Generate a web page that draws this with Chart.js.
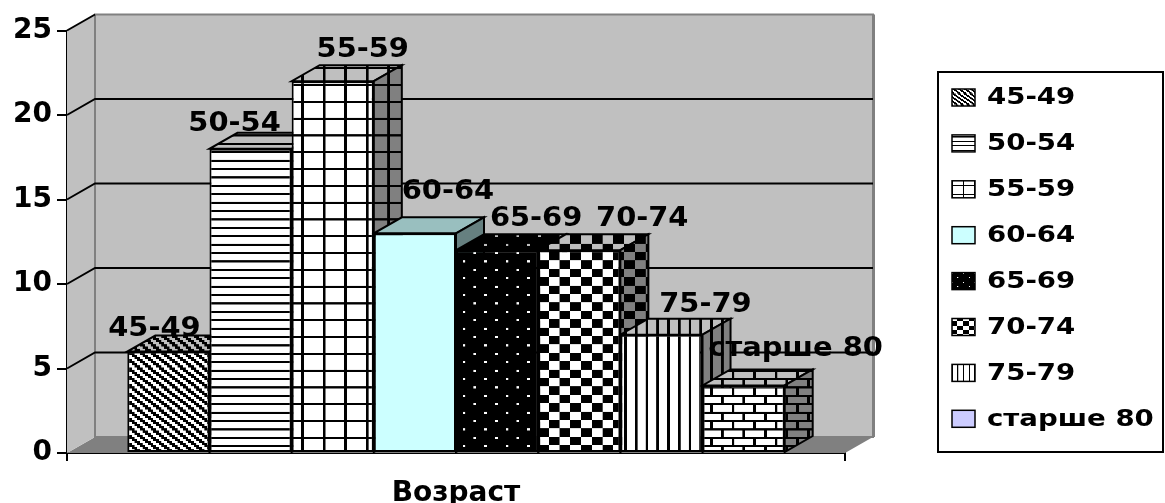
<!DOCTYPE html>
<html lang="ru">
<head>
<meta charset="utf-8">
<title>Возраст</title>
<script src="https://cdn.jsdelivr.net/npm/chart.js@4/dist/chart.umd.min.js"></script>
<style>
  html, body { margin: 0; padding: 0; background: #fff; }
  canvas { display: block; }
</style>
</head>
<body>
<canvas id="chart" width="1165" height="503"></canvas>
<script>
// ---- data ----
const categories = ['Возраст'];
const seriesNames = ['45-49', '50-54', '55-59', '60-64', '65-69', '70-74', '75-79', 'старше 80'];
const seriesValues = [6, 18, 22, 13, 12, 12, 7, 4];
const yTicks = [0, 5, 10, 15, 20, 25];

// ---- look ----
const FONT = "'DejaVu Sans', Verdana, sans-serif";
const depth = { dx: 28, dy: -16 };           // 3-D offset of the back plane
const labelNudge = [[-14, -25], [-16, -27], [30, -33], [33, -43], [39, -33], [63, -33], [44, -32], [52, -38]];

// 8x8 fill bitmaps (true = foreground pixel)
const bitmaps = {
  wideDownDiag: (x, y) => (((x - y) % 4) + 4) % 4 < 2,
  narrowHorz:   (x, y) => y % 4 === 0,
  largeGrid:    (x, y) => x % 8 === 0 || y % 8 === 0,
  solid:        () => false,
  dots:         (x, y) => (y === 0 && x === 0) || (y === 4 && x === 4),
  checker:      (x, y) => (((x >> 2) + (y >> 2)) & 1) === 1,
  narrowVert:   (x, y) => x % 4 === 0,
  brick:        (x, y) => y % 4 === 0 || (y < 4 ? x === 0 : x === 4)
};
const seriesFills = [
  { kind: 'wideDownDiag', fg: [0, 0, 0],       bg: [255, 255, 255] },
  { kind: 'narrowHorz',   fg: [0, 0, 0],       bg: [255, 255, 255] },
  { kind: 'largeGrid',    fg: [0, 0, 0],       bg: [255, 255, 255] },
  { kind: 'solid',        fg: [0, 0, 0],       bg: [204, 255, 255] },
  { kind: 'dots',         fg: [255, 255, 255], bg: [0, 0, 0] },
  { kind: 'checker',      fg: [0, 0, 0],       bg: [255, 255, 255] },
  { kind: 'narrowVert',   fg: [0, 0, 0],       bg: [255, 255, 255] },
  { kind: 'brick',        fg: [0, 0, 0],       bg: [255, 255, 255], swatch: [204, 204, 255] }
];

const canvas = document.getElementById('chart');
const ctx0 = canvas.getContext('2d');

function rgb(c, k) {
  return 'rgb(' + c.map(v => Math.round(v * k)).join(',') + ')';
}
function makeFill(spec, shade, sx, sy) {
  if (spec.kind === 'solid') return rgb(spec.bg, shade);
  const S = 8;
  const t = document.createElement('canvas');
  t.width = 8 * S; t.height = 8 * S;
  const g = t.getContext('2d');
  g.fillStyle = rgb(spec.bg, shade);
  g.fillRect(0, 0, t.width, t.height);
  g.fillStyle = rgb(spec.fg, shade);
  const fn = bitmaps[spec.kind];
  for (let y = 0; y < 8; y++) for (let x = 0; x < 8; x++) if (fn(x, y)) g.fillRect(x * S, y * S, S, S);
  const p = ctx0.createPattern(t, 'repeat');
  p.setTransform(new DOMMatrix([sx / S, 0, 0, sy / S, 0, 0]));
  return p;
}
const fronts = seriesFills.map(s => makeFill(s, 1, 2.69, 2.1));
const tops   = seriesFills.map(s => makeFill(s, 0.75, 2.69, 2.1));
const sides  = seriesFills.map(s => makeFill(s, 0.5, 2.69, 2.1));
const swatches = seriesFills.map(s => s.swatch ? rgb(s.swatch, 1) : makeFill(s, 1, 1.45, 1.1));

function poly(ctx, pts, fill, stroke, lw) {
  ctx.beginPath();
  ctx.moveTo(pts[0][0], pts[0][1]);
  for (let i = 1; i < pts.length; i++) ctx.lineTo(pts[i][0], pts[i][1]);
  ctx.closePath();
  if (fill) { ctx.fillStyle = fill; ctx.fill(); }
  if (stroke) { ctx.strokeStyle = stroke; ctx.lineWidth = lw || 2; ctx.lineJoin = 'miter'; ctx.stroke(); }
}

// walls, floor, gridlines and the top/side faces of each bar
const scene3d = {
  id: 'scene3d',
  beforeDatasetsDraw(chart) {
    const { ctx, chartArea: a, scales: { y } } = chart;
    const { dx, dy } = depth;
    ctx.save();
    poly(ctx, [[a.left, a.bottom], [a.left + dx, a.bottom + dy], [a.right + dx, a.bottom + dy], [a.right, a.bottom]], '#808080');
    poly(ctx, [[a.left, a.top], [a.left + dx, a.top + dy], [a.left + dx, a.bottom + dy], [a.left, a.bottom]], '#c0c0c0');
    ctx.fillStyle = '#c0c0c0';
    ctx.fillRect(a.left + dx, a.top + dy, a.right - a.left, a.bottom - a.top);
    ctx.strokeStyle = '#808080';
    ctx.lineWidth = 2;
    ctx.strokeRect(a.left + dx, a.top + dy, a.right - a.left, a.bottom - a.top);
    ctx.lineWidth = 3;
    ctx.beginPath();
    ctx.moveTo(a.right + dx + 0.5, a.top + dy);
    ctx.lineTo(a.right + dx + 0.5, a.bottom + dy);
    ctx.stroke();

    ctx.strokeStyle = '#000';
    ctx.lineWidth = 2;
    yTicks.forEach(v => {
      if (v === yTicks[0]) return;
      const py = y.getPixelForValue(v);
      ctx.beginPath();
      ctx.moveTo(a.left, py);
      ctx.lineTo(a.left + dx, py + dy);
      if (v !== yTicks[yTicks.length - 1]) ctx.lineTo(a.right + dx, py + dy);
      ctx.stroke();
    });

    chart.data.datasets.forEach((ds, i) => {
      const el = chart.getDatasetMeta(i).data[0];
      if (!el) return;
      const p = el.getProps(['x', 'y', 'base', 'width'], true);
      const l = p.x - p.width / 2, r = p.x + p.width / 2;
      poly(ctx, [[l, p.y], [r, p.y], [r + dx, p.y + dy], [l + dx, p.y + dy]], tops[i], '#000', 2);
      poly(ctx, [[r, p.y], [r + dx, p.y + dy], [r + dx, p.base + dy], [r, p.base]], sides[i], '#000', 2);
    });
    ctx.restore();
  },
  afterDatasetsDraw(chart) {
    const { ctx } = chart;
    ctx.save();
    ctx.fillStyle = '#000';
    ctx.font = 'bold 27px ' + FONT;
    ctx.textAlign = 'center';
    ctx.textBaseline = 'middle';
    chart.data.datasets.forEach((ds, i) => {
      const el = chart.getDatasetMeta(i).data[0];
      if (!el) return;
      const p = el.getProps(['x', 'y'], true);
      ctx.save();
      ctx.translate(p.x + labelNudge[i][0], p.y + labelNudge[i][1] + 2);
      ctx.scale(1.07, 1);
      ctx.fillText(ds.label, 0, 0);
      ctx.restore();
    });
    ctx.restore();
  },
  afterDraw(chart) {
    const { ctx } = chart;
    ctx.save();
    ctx.lineWidth = 2;
    ctx.strokeStyle = '#000';
    ctx.strokeRect(938, 72, 225, 380);
    ctx.font = 'bold 23px ' + FONT;
    ctx.textBaseline = 'middle';
    ctx.fillStyle = '#000';
    chart.data.datasets.forEach((ds, i) => {
      const cy = 97.5 + i * 45.9;
      ctx.fillStyle = swatches[i];
      ctx.fillRect(952, cy - 8.5, 23, 17);
      ctx.lineWidth = 1.5;
      ctx.strokeRect(952, cy - 8.5, 23, 17);
      ctx.fillStyle = '#000';
      ctx.save();
      ctx.translate(987, cy + 1);
      ctx.scale(1.2, 1);
      ctx.fillText(ds.label, 0, 0);
      ctx.restore();
    });
    ctx.restore();
  }
};

const datasets = seriesNames.map((name, i) => ({
  label: name,
  data: [seriesValues[i]],
  backgroundColor: fronts[i],
  borderColor: '#000',
  borderWidth: 2,
  borderSkipped: false,
  categoryPercentage: 0.845,
  barPercentage: 1
}));

new Chart(canvas, {
  type: 'bar',
  data: { labels: categories, datasets },
  plugins: [scene3d],
  options: {
    responsive: false,
    animation: false,
    events: [],
    layout: { padding: { left: 0, right: 320, top: 30.5, bottom: 0 } },
    plugins: { legend: { display: false }, tooltip: { enabled: false } },
    scales: {
      x: {
        afterFit: s => { s.height = 50; },
        grid: { offset: true, drawOnChartArea: false, color: '#000', lineWidth: 2, tickLength: 8 },
        border: { color: '#000', width: 2 },
        ticks: { color: '#000', font: { family: FONT, size: 28, weight: 'bold' }, padding: 16 }
      },
      y: {
        min: 0,
        max: 25,
        afterFit: s => { s.width = 67; },
        afterBuildTicks: s => { s.ticks = yTicks.map(v => ({ value: v })); },
        grid: { drawOnChartArea: false, color: '#000', lineWidth: 2, tickLength: 10 },
        border: { color: '#000', width: 2 },
        ticks: { color: '#000', font: { family: FONT, size: 28, weight: 'bold' }, padding: 5 }
      }
    }
  }
});
</script>
</body>
</html>
